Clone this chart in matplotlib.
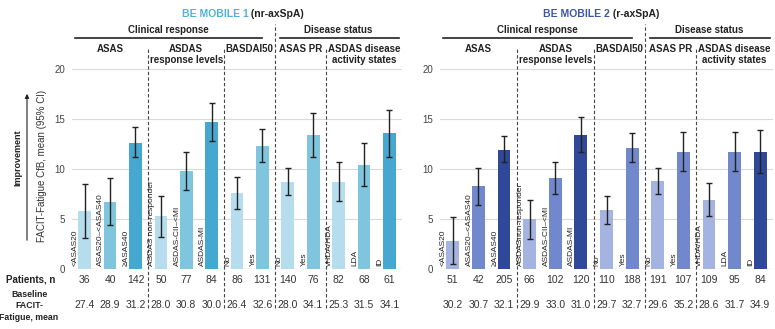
import matplotlib.pyplot as plt
import numpy as np

plt.rcParams['font.family'] = ['Liberation Sans', 'DejaVu Sans']

# bar labels (same for both studies, except one spacing difference)
labels_1 = ["<ASAS20", "ASAS20\u2013<ASAS40", "\u2265ASAS40",
            "ASDAS non-responder", "ASDAS-CII\u2013<MI", "ASDAS-MI",
            "No", "Yes", "No", "Yes", "vHDA/HDA", "LDA", "ID"]
labels_2 = ["<ASAS20", "ASAS20\u2013<ASAS40", "\u2265ASAS40",
            "ASDASnon-responder", "ASDAS-CII\u2013<MI", "ASDAS-MI",
            "No", "Yes", "No", "Yes", "vHDA/HDA", "LDA", "ID"]

# BE MOBILE 1 (nr-axSpA)
mean_1 = [5.8, 6.7, 12.6, 5.3, 9.8, 14.7, 7.6, 12.3, 8.7, 13.4, 8.7, 10.4, 13.6]
ci_lo_1 = [3.1, 4.4, 11.2, 3.2, 7.9, 12.8, 6.0, 10.7, 7.4, 11.2, 6.8, 8.3, 11.2]
ci_hi_1 = [8.5, 9.1, 14.2, 7.3, 11.7, 16.6, 9.2, 14.0, 10.1, 15.6, 10.7, 12.6, 15.9]
n_1 = [36, 40, 142, 50, 77, 84, 86, 131, 140, 76, 82, 68, 61]
base_1 = [27.4, 28.9, 31.2, 28.0, 30.8, 30.0, 26.4, 32.6, 28.0, 34.1, 25.3, 31.5, 34.1]

# BE MOBILE 2 (r-axSpA)
mean_2 = [2.8, 8.3, 11.9, 5.0, 9.1, 13.4, 5.9, 12.1, 8.8, 11.7, 6.9, 11.7, 11.7]
ci_lo_2 = [0.5, 6.4, 10.7, 3.0, 7.5, 11.7, 4.5, 10.7, 7.5, 9.8, 5.3, 9.8, 9.6]
ci_hi_2 = [5.2, 10.1, 13.3, 6.9, 10.7, 15.2, 7.3, 13.6, 10.1, 13.7, 8.6, 13.7, 13.9]
n_2 = [51, 42, 205, 66, 102, 120, 110, 188, 191, 107, 109, 95, 84]
base_2 = [30.2, 30.7, 32.1, 29.9, 33.0, 31.0, 29.7, 32.7, 29.6, 35.2, 28.6, 31.7, 34.9]

# shade index per bar: 0 light, 1 medium, 2 dark
shade = [0, 1, 2, 0, 1, 2, 0, 1, 0, 1, 0, 1, 2]
colors_1 = ["#b6dded", "#80c5de", "#45a8d0"]
colors_2 = ["#a5b3e1", "#7189cc", "#2f4898"]

subgroups = [(1.0, "ASAS"), (4.0, "ASDAS\nresponse levels"), (6.5, "BASDAI50"),
             (8.5, "ASAS PR"), (11.0, "ASDAS disease\nactivity states")]
dividers = [2.5, 5.5, 7.5, 9.5]

fig = plt.figure(figsize=(7.75, 3.29), dpi=100)
ax1 = fig.add_axes([72 / 775, 60 / 329, 330 / 775, 200 / 329])
ax2 = fig.add_axes([440 / 775, 60 / 329, 333 / 775, 200 / 329])


def draw_panel(ax, mean, lo, hi, n, base, labels, colors):
    x = np.arange(len(mean))
    mean = np.array(mean)
    err = [mean - np.array(lo), np.array(hi) - mean]
    ax.set_xlim(-0.5, 12.5)
    ax.set_ylim(0, 20)
    ax.set_yticks([0, 5, 10, 15, 20])
    ax.yaxis.grid(True, color="#d9d9d9", lw=0.8)
    ax.set_axisbelow(True)
    for s in ax.spines.values():
        s.set_visible(False)
    ax.axhline(0, color="#bfbfbf", lw=0.8)
    ax.tick_params(axis="y", length=0, labelsize=7, labelcolor="#444444", pad=5)
    ax.set_xticks([])
    ax.bar(x, mean, width=0.5, color=[colors[s] for s in shade], zorder=2)
    ax.errorbar(x, mean, yerr=err, fmt="none", ecolor="#222222", elinewidth=1,
                capsize=2, capthick=1, zorder=3)
    for i, lab in enumerate(labels):
        ax.text(i - 0.36, 0.35, lab, rotation=90, ha="center", va="bottom",
                fontsize=6, color="#222222", zorder=4)
        ax.text(i, -1.1, str(n[i]), ha="center", va="center", fontsize=7.5,
                color="#333333", clip_on=False)
        ax.text(i, -3.6, "%.1f" % base[i], ha="center", va="center", fontsize=7.5,
                color="#333333", clip_on=False)
    # dashed dividers
    for d in dividers:
        top = 24.5 if d == 7.5 else 22.1
        ax.plot([d, d], [-3.9, top], ls=(0, (3, 2)), color="#444444", lw=0.8,
                clip_on=False, zorder=1)
    # group headers
    ax.text(3.3, 23.9, "Clinical response", ha="center", va="center",
            fontsize=7, fontweight="bold", color="#222222", clip_on=False)
    ax.plot([-0.4, 7.0], [23.1, 23.1], color="#222222", lw=1.2, clip_on=False)
    ax.text(10.0, 23.9, "Disease status", ha="center", va="center",
            fontsize=7, fontweight="bold", color="#222222", clip_on=False)
    ax.plot([7.7, 12.4], [23.1, 23.1], color="#222222", lw=1.2, clip_on=False)
    for xs, txt in subgroups:
        ax.text(xs, 22.5, txt, ha="center", va="top", fontsize=7,
                fontweight="bold", color="#222222", linespacing=1.15, clip_on=False)


draw_panel(ax1, mean_1, ci_lo_1, ci_hi_1, n_1, base_1, labels_1, colors_1)
draw_panel(ax2, mean_2, ci_lo_2, ci_hi_2, n_2, base_2, labels_2, colors_2)

# two-coloured titles, centred over each panel
renderer = fig.canvas.get_renderer()
for cx, head, tail, col in [(243 / 775, "BE MOBILE 1", " (nr-axSpA)", "#4fb3d9"),
                            (601 / 775, "BE MOBILE 2", " (r-axSpA)", "#3d56a6")]:
    t1 = fig.text(0, 1 - 14 / 329, head, color=col, fontsize=7.5,
                  fontweight="bold", va="center")
    t2 = fig.text(0, 1 - 14 / 329, tail, color="#222222", fontsize=7.5,
                  fontweight="bold", va="center")
    w1 = t1.get_window_extent(renderer).width / fig.bbox.width
    w2 = t2.get_window_extent(renderer).width / fig.bbox.width
    x0 = cx - (w1 + w2) / 2
    t1.set_x(x0)
    t2.set_x(x0 + w1)

# y-axis annotation
fig.text(42 / 775, 1 - 166 / 329, "FACIT-Fatigue CfB, mean (95% CI)", rotation=90,
         ha="center", va="center", fontsize=7, color="#333333")
fig.text(18 / 775, 1 - 158 / 329, "Improvement", rotation=90, ha="center",
         va="center", fontsize=6.5, fontweight="bold", color="#222222")
fig.add_artist(plt.matplotlib.patches.FancyArrowPatch(
    (27 / 775, 1 - 243 / 329), (27 / 775, 1 - 91 / 329),
    transform=fig.transFigure, arrowstyle="-|>", mutation_scale=6,
    color="#222222", lw=0.8))

# row labels
fig.text(55 / 775, 1 - 280 / 329, "Patients, n", ha="right", va="center",
         fontsize=7, fontweight="bold", color="#222222")
fig.text(29 / 775, 1 - 306 / 329, "Baseline\nFACIT-\nFatigue, mean", ha="center",
         va="center", fontsize=6.3, fontweight="bold", color="#222222",
         linespacing=1.35)

fig.savefig("out.png", dpi=100)
